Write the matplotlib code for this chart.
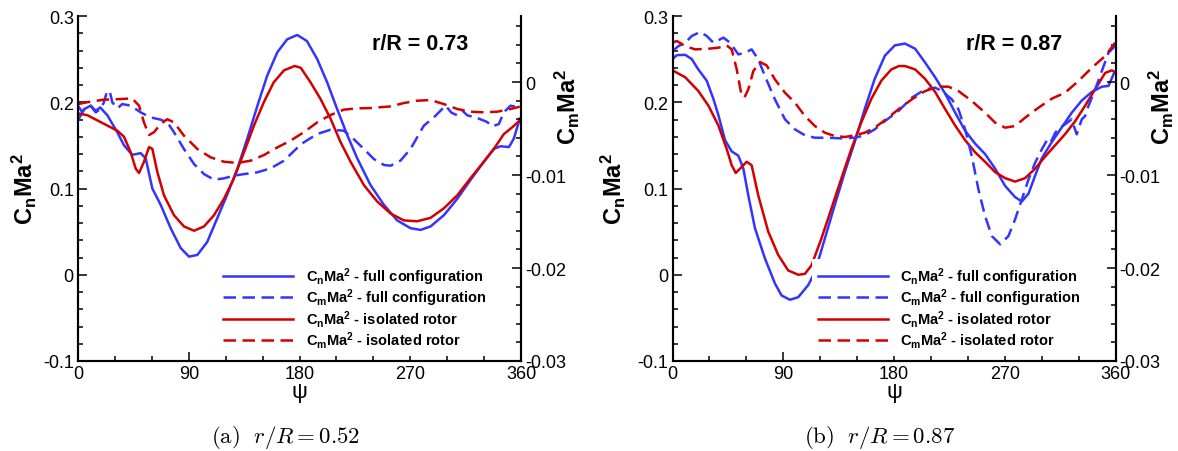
import matplotlib
matplotlib.use("Agg")
import matplotlib.pyplot as plt
from matplotlib.ticker import MultipleLocator, FuncFormatter

plt.rcParams['font.family'] = ['Liberation Sans', 'DejaVu Sans']
plt.rcParams['mathtext.fontset'] = 'custom'
plt.rcParams['mathtext.rm'] = 'Liberation Sans'
plt.rcParams['mathtext.it'] = 'Liberation Sans:italic'
plt.rcParams['mathtext.bf'] = 'Liberation Sans:bold'
plt.rcParams['axes.unicode_minus'] = False

BLUE = '#3434ff'
RED = '#d40000'

# ---- panel (a), r/R = 0.73 ----
psi_cn_full_a = [0, 4.9, 10.3, 14.4, 18, 23.8, 32, 37.4, 44.1, 50.9, 55, 60.4, 67.2, 75.3, 83.4,
                 90.2, 97, 105, 113, 121, 129.5, 137.6, 145.8, 153.8, 162, 170, 178.2, 186, 194.4,
                 202.5, 210.6, 218.8, 226.9, 237.7, 248.6, 259.4, 270.2, 278.4, 286.5, 297.3,
                 308.2, 319, 329.8, 338, 343.4, 350.2, 354.2, 359]
cn_full_a = [0.179, 0.192, 0.196, 0.19, 0.194, 0.185, 0.165, 0.15, 0.139, 0.141, 0.135, 0.1, 0.081,
             0.054, 0.031, 0.021, 0.023, 0.038, 0.065, 0.092, 0.123, 0.158, 0.196, 0.231, 0.258,
             0.273, 0.278, 0.271, 0.25, 0.223, 0.192, 0.162, 0.135, 0.104, 0.081, 0.063, 0.054,
             0.052, 0.056, 0.069, 0.088, 0.110, 0.131, 0.146, 0.149, 0.148, 0.158, 0.181]

psi_cn_iso_a = [0, 7.6, 15.7, 23.8, 32, 37.4, 42.8, 46.9, 49.6, 53.6, 57.7, 60.4, 64.5, 69.9, 78,
                86.1, 94.3, 102.4, 110.5, 118.6, 126.8, 134.9, 143, 151, 159, 167.4, 176, 181,
                189, 197, 205.2, 213.3, 221.5, 232.3, 243.1, 254, 264.8, 275.6, 286.5, 297.3,
                308.2, 319, 329.8, 338, 346, 352.9, 359]
cn_iso_a = [0.187, 0.185, 0.179, 0.173, 0.167, 0.16, 0.142, 0.123, 0.118, 0.131, 0.148, 0.146,
            0.119, 0.092, 0.069, 0.056, 0.051, 0.056, 0.069, 0.088, 0.112, 0.142, 0.173, 0.2,
            0.223, 0.237, 0.242, 0.240, 0.223, 0.204, 0.181, 0.154, 0.131, 0.104, 0.085, 0.071,
            0.063, 0.062, 0.066, 0.077, 0.092, 0.112, 0.131, 0.146, 0.163, 0.171, 0.179]

psi_cm_full_a = [0, 3.5, 6.2, 10.3, 14.4, 18.4, 21, 23.8, 26, 27.9, 32, 36, 42.8, 50.9, 59, 67.2,
                 72.6, 78, 86.1, 94.3, 102.4, 110.5, 118.6, 126.8, 134.9, 145.7, 156.6, 167.4,
                 178, 183.5, 194.4, 205.2, 216, 224, 232.3, 240.4, 248.6, 254, 262, 270.2, 275.6,
                 281, 289.2, 294.6, 298.7, 303.5, 308.2, 312.2, 316.3, 321.7, 325.8, 332.5,
                 336.6, 342, 346, 351.5, 355.6, 359]
cm_full_a = [-0.00254, -0.00326, -0.00272, -0.00254, -0.00326, -0.0029, -0.00219, -0.00093,
             -0.00111, -0.00219, -0.00283, -0.00237, -0.00254, -0.00326, -0.0038, -0.00405,
             -0.00434, -0.0054, -0.0072, -0.00882, -0.0099, -0.0105, -0.01036, -0.01007,
             -0.0099, -0.00971, -0.00928, -0.00846, -0.0071, -0.00649, -0.00559, -0.00513,
             -0.00523, -0.00613, -0.0072, -0.00828, -0.00892, -0.009, -0.00846, -0.0072,
             -0.00595, -0.0047, -0.0038, -0.00308, -0.00254, -0.0033, -0.00358, -0.00305,
             -0.00358, -0.00376, -0.00394, -0.0043, -0.00477, -0.00452, -0.00326, -0.00254,
             -0.00265, -0.0029]

psi_cm_iso_a = [0, 10, 21, 34.7, 44, 49.6, 53.6, 57.7, 61.8, 67.2, 72.6, 78, 86.1, 97, 107.8,
                118.6, 129.5, 140.3, 151.1, 162, 172.8, 183.5, 194.4, 205.2, 216, 226.9, 237.7,
                254, 264.8, 275.6, 286.5, 297.3, 308.2, 319, 329.8, 340.7, 351.5, 359]
cm_iso_a = [-0.00237, -0.00211, -0.0019, -0.00183, -0.00176, -0.00254, -0.00434, -0.0057,
            -0.0054, -0.0045, -0.004, -0.00434, -0.00577, -0.0072, -0.0081, -0.00857, -0.0087,
            -0.00846, -0.00785, -0.00703, -0.0063, -0.0054, -0.00434, -0.00355, -0.00297,
            -0.00283, -0.0028, -0.00262, -0.00226, -0.00201, -0.00194, -0.00237, -0.0029,
            -0.00319, -0.00326, -0.00319, -0.0029, -0.00265]

# ---- panel (b), r/R = 0.87 ----
psi_cn_full_b = [0, 3.5, 10.3, 15.7, 21, 27.8, 33.2, 37.3, 42.7, 48.1, 53.5, 57.6, 61.6, 67,
                 75.1, 83.2, 88.6, 95.4, 102.2, 110.3, 115.7, 123.8, 131.9, 140, 148.1, 156.2,
                 164.3, 172.6, 180.7, 189, 197.2, 205.3, 213.4, 221.6, 229.7, 237.8, 245.9, 254,
                 262.2, 270.3, 278.4, 283.9, 289.3, 294.7, 300.1, 308.3, 316.4, 324.5, 332.6,
                 340.8, 348.9, 354.3, 359.2]
cn_full_b = [0.25, 0.2546, 0.255, 0.25, 0.238, 0.225, 0.204, 0.185, 0.156, 0.143, 0.138, 0.123,
             0.092, 0.054, 0.019, -0.01, -0.024, -0.029, -0.026, -0.012, 0.003, 0.042, 0.081,
             0.119, 0.154, 0.192, 0.227, 0.254, 0.266, 0.268, 0.262, 0.246, 0.229, 0.21, 0.188,
             0.167, 0.152, 0.140, 0.123, 0.103, 0.09, 0.085, 0.094, 0.115, 0.135, 0.154, 0.171,
             0.188, 0.202, 0.212, 0.218, 0.219, 0.235]

psi_cn_iso_b = [0, 10.3, 21, 29.2, 37.3, 44, 48.1, 51.4, 56.2, 60.3, 64.3, 69.7, 77.8, 85.9, 94,
                102.2, 107.6, 113, 121, 129.2, 137.3, 145.4, 153.5, 161.6, 169.7, 177.8, 184,
                189, 197.2, 205.3, 213.4, 221.6, 229.7, 237.8, 245.9, 254, 262.2, 270.3, 278.4,
                286.5, 294.7, 302.8, 310.9, 319, 327.2, 335.3, 343.4, 351.6, 357, 359.7]
cn_iso_b = [0.237, 0.229, 0.213, 0.196, 0.173, 0.146, 0.127, 0.118, 0.125, 0.131, 0.127, 0.092,
            0.05, 0.023, 0.005, 0.0, 0.001, 0.011, 0.042, 0.077, 0.112, 0.146, 0.177, 0.204,
            0.225, 0.238, 0.242, 0.242, 0.238, 0.227, 0.212, 0.192, 0.173, 0.156, 0.142, 0.131,
            0.119, 0.112, 0.108, 0.112, 0.123, 0.137, 0.15, 0.163, 0.178, 0.196, 0.215, 0.234,
            0.237, 0.235]

psi_cm_full_b = [0, 4.9, 10.3, 15.7, 22.4, 27.8, 33.2, 41.4, 46.8, 53.5, 58.9, 64.3, 69.7, 75.1,
                 83.2, 91.4, 99.5, 107.6, 115.7, 126.5, 137.3, 148.1, 156.2, 164.3, 172.6, 183.6,
                 194.5, 205.3, 213.4, 218.9, 227, 232.4, 237.8, 243.2, 248.6, 254, 259.5, 266.3,
                 273, 278.4, 283.9, 289.3, 294.7, 300.1, 305.5, 308.2, 311, 315, 319, 324.3,
                 328.5, 332.6, 335.3, 338, 343.5, 348.9, 354.3, 359.7]
cm_full_b = [0.00333, 0.00387, 0.00423, 0.00495, 0.00538, 0.00495, 0.00423, 0.00477, 0.00423,
             0.00297, 0.00315, 0.00351, 0.00244, 0.00065, -0.00186, -0.00401, -0.00509,
             -0.00573, -0.00599, -0.00599, -0.00606, -0.00599, -0.00573, -0.00509, -0.0042,
             -0.00312, -0.00168, -0.00079, -0.00061, -0.00097, -0.00186, -0.00294, -0.00509,
             -0.00796, -0.01154, -0.01441, -0.01656, -0.01746, -0.01656, -0.01477, -0.01262,
             -0.01047, -0.00867, -0.00724, -0.00599, -0.0063, -0.00545, -0.00491, -0.00455,
             -0.00401, -0.00563, -0.00401, -0.00366, -0.00258, -0.00079, 0.00118, 0.00315,
             0.00387]

psi_cm_iso_b = [0, 3.5, 10.3, 18.4, 29.2, 37.3, 44, 48.1, 52.2, 55.7, 58.4, 61.6, 65.7, 71.1,
                76.5, 83.2, 91.4, 99.5, 107.6, 115.7, 123.8, 131.9, 140, 148.1, 156.2, 164.3,
                172.6, 183.6, 194.5, 205.3, 216.1, 224.3, 232.4, 243.2, 254, 262.2, 270.3, 278.4,
                286.5, 297.4, 308.2, 319, 329.9, 340.8, 351.6, 359.7]
cm_iso_b = [0.00423, 0.00441, 0.00387, 0.00351, 0.00358, 0.00369, 0.00394, 0.00351, 0.00136,
            -0.00115, -0.00168, -0.00079, 0.00118, 0.00215, 0.00179, 0.00029, -0.00115,
            -0.00222, -0.00366, -0.00473, -0.00545, -0.00581, -0.00591, -0.00573, -0.00545,
            -0.00491, -0.0041, -0.00294, -0.00186, -0.00097, -0.0005, -0.0005, -0.00097,
            -0.00204, -0.0033, -0.00437, -0.00491, -0.00473, -0.00384, -0.00276, -0.00179,
            -0.00115, 0.00011, 0.00154, 0.0028, 0.00423]

legend_labels = [r'$\mathbf{C_nMa^2}$ - full configuration',
                 r'$\mathbf{C_mMa^2}$ - full configuration',
                 r'$\mathbf{C_nMa^2}$ - isolated rotor',
                 r'$\mathbf{C_mMa^2}$ - isolated rotor']

fmt = FuncFormatter(lambda v, pos: '%g' % (round(v, 6) + 0.0))
LW = 1.8
DASH = (5.0, 2.6)


def draw_panel(left, series, station, caption, lab_x):
    (pf, cf), (pi, ci), (pmf, cmf), (pmi, cmi) = series
    ax = fig.add_axes([left / 1178, 90 / 452, 443 / 1178, 345 / 452])
    ax2 = ax.twinx()

    l1, = ax.plot(pf, cf, color=BLUE, lw=LW)
    l3, = ax.plot(pi, ci, color=RED, lw=LW)
    l2, = ax2.plot(pmf, cmf, color=BLUE, lw=LW, dashes=DASH)
    l4, = ax2.plot(pmi, cmi, color=RED, lw=LW, dashes=DASH)

    ax.set_xlim(0, 360)
    ax.set_ylim(-0.1, 0.3)
    ax2.set_ylim(-0.03, 0.0071)

    ax.xaxis.set_major_locator(MultipleLocator(90))
    ax.xaxis.set_minor_locator(MultipleLocator(30))
    ax.yaxis.set_major_locator(MultipleLocator(0.1))
    ax.yaxis.set_minor_locator(MultipleLocator(0.02))
    ax2.yaxis.set_major_locator(MultipleLocator(0.01))
    ax2.yaxis.set_minor_locator(MultipleLocator(0.002))
    ax.yaxis.set_major_formatter(fmt)
    ax2.yaxis.set_major_formatter(fmt)

    for a in (ax, ax2):
        a.spines['top'].set_visible(False)
        for s in ('left', 'right', 'bottom'):
            a.spines[s].set_linewidth(1.5)
        a.tick_params(which='both', direction='in', width=1.1, labelsize=13, pad=3)
        a.tick_params(which='major', length=6.5)
        a.tick_params(which='minor', length=3.5)
    ax.tick_params(axis='y', which='both', right=False)
    ax.tick_params(axis='x', which='both', top=False)

    ax.set_xlabel('ψ', fontsize=16, labelpad=-1)
    ax.set_ylabel(r'$\mathbf{C_nMa^2}$', fontsize=17)
    ax.yaxis.set_label_coords(lab_x, 0.5)
    ax2.set_ylabel(r'$\mathbf{C_mMa^2}$', fontsize=17, rotation=90)
    ax2.yaxis.set_label_coords(1.072, 0.739)

    ax.text(278, 0.268, station, fontsize=15.5, fontweight='bold', ha='center', va='center')

    leg = ax2.legend([l1, l2, l3, l4], legend_labels, loc='upper left',
                     bbox_to_anchor=(0.315, 0.295), frameon=True, fancybox=False,
                     edgecolor='none', facecolor='white', framealpha=1.0,
                     prop={'weight': 'bold', 'size': 10.5}, handlelength=4.8,
                     handletextpad=0.85, labelspacing=0.0, borderpad=0.4, borderaxespad=0)
    leg.set_zorder(10)

    fig.text((left + 207.5) / 1178, 14 / 452, caption, fontsize=16.5, ha='center', va='center',
             math_fontfamily='cm')


fig = plt.figure(figsize=(11.78, 4.52), dpi=100)

draw_panel(78, [(psi_cn_full_a, cn_full_a), (psi_cn_iso_a, cn_iso_a),
                (psi_cm_full_a, cm_full_a), (psi_cm_iso_a, cm_iso_a)],
           'r/R = 0.73', r'$\mathrm{(a)}\ \ r/R = 0.52$', -0.088)
draw_panel(672.5, [(psi_cn_full_b, cn_full_b), (psi_cn_iso_b, cn_iso_b),
                   (psi_cm_full_b, cm_full_b), (psi_cm_iso_b, cm_iso_b)],
           'r/R = 0.87', r'$\mathrm{(b)}\ \ r/R = 0.87$', -0.10)

fig.savefig('out.png', dpi=100)
